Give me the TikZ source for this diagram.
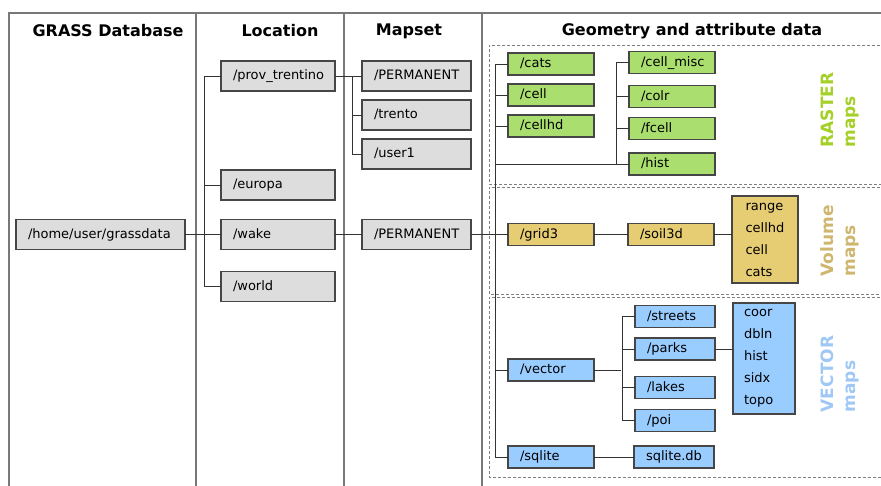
\documentclass[tikz,border=0pt]{standalone}
\usepackage{fontspec}
\setmainfont{DejaVu Sans}
\usetikzlibrary{positioning}
\definecolor{gridline}{RGB}{120,120,120}
\definecolor{boxline}{RGB}{70,70,70}
\definecolor{greyfill}{RGB}{221,221,221}
\definecolor{rastfill}{RGB}{170,222,110}
\definecolor{rastlabel}{RGB}{165,208,40}
\definecolor{volfill}{RGB}{230,204,115}
\definecolor{vollabel}{RGB}{206,182,110}
\definecolor{vectfill}{RGB}{153,204,255}
\definecolor{vectlabel}{RGB}{160,200,245}
\tikzstyle{folder} = [draw=boxline,line width=1.2pt,rectangle,outer sep=0pt,inner xsep=12pt,align=left,font=\fontsize{13}{15}\selectfont,text height=9.5pt,text depth=2.5pt]
\tikzstyle{grey} = [folder,fill=greyfill,minimum height=30pt]
\tikzstyle{rast} = [folder,fill=rastfill,minimum height=22pt]
\tikzstyle{vol} = [folder,fill=volfill,minimum height=22pt]
\tikzstyle{vect} = [folder,fill=vectfill,minimum height=22pt]
\tikzstyle{files} = [draw=boxline,line width=1.2pt,rectangle,outer sep=0pt,align=left,font=\fontsize{13}{22}\selectfont]
\tikzstyle{link} = [-,line width=1pt,draw=black!80]
\tikzstyle{head} = [font=\fontsize{16}{18}\selectfont\bfseries]
\tikzstyle{maptype} = [rotate=90,align=left,font=\fontsize{17}{22}\selectfont\bfseries]
\tikzstyle{frame} = [line width=1.4pt,draw=gridline]
\tikzstyle{group} = [densely dashed,line width=0.8pt,draw=gray]
\def \gap {9pt}

\begin{document}
\begin{tikzpicture}[x=1pt,y=-1pt]
      \useasboundingbox (0,0) rectangle (881,485);
      \draw[frame] (9,490) -- (9,13) -- (890,13);
      \foreach \x in {196,344,482} \draw[frame] (\x,13) -- (\x,490);
      \node[head] (hdb) at (108,31) {GRASS Database};
      \node[head] (hloc) at (280,31) {Location};
      \node[head] (hmap) at (409,31) {Mapset};
      \node[head] (hgeo) at (692,31) {Geometry and attribute data};
      \draw[group] (895,45) -| (489,184) -- (895,184);
      \draw[group] (895,187) -| (489,294) -- (895,294);
      \draw[group] (895,297) -| (489,477) -- (895,477);
      \node[grey,text width=145pt,anchor=west] (home) at (16,234.5) {/home/user/grassdata};
      \node[grey,text width=90pt,anchor=west] (prov) at (221,76) {/prov\_trentino};
      \node[grey,text width=90pt,anchor=west] (europa) at (221,185) {/europa};
      \node[grey,text width=90pt,anchor=west] (wake) at (221,234.5) {/wake};
      \node[grey,text width=90pt,anchor=west] (world) at (221,286.5) {/world};
      \node[grey,text width=85pt,anchor=west] (perm) at (362,76) {/PERMANENT};
      \node[grey,text width=85pt,below=\gap of perm] (trento) {/trento};
      \node[grey,text width=85pt,below=\gap of trento] (user1) {/user1};
      \node[grey,text width=85pt,anchor=west] (wperm) at (362,234.5) {/PERMANENT};
      \node[rast,text width=62pt,anchor=west] (cats) at (508,64) {/cats};
      \node[rast,text width=62pt,below=\gap of cats] (cell) {/cell};
      \node[rast,text width=62pt,below=\gap of cell] (cellhd) {/cellhd};
      \node[rast,text width=62pt,anchor=west] (misc) at (629,62.5) {/cell\_misc};
      \node[rast,text width=62pt,below=12pt of misc] (colr) {/colr};
      \node[rast,text width=62pt,below=10pt of colr] (fcell) {/fcell};
      \node[rast,text width=62pt,below=13.5pt of fcell] (hist) {/hist};
      \node[vol,text width=62pt,anchor=west] (grid3) at (508,234.5) {/grid3};
      \node[vol,text width=62pt,right=34pt of grid3] (soil) {/soil3d};
      \node[files,fill=volfill,text width=39pt,inner xsep=13.5pt,minimum height=87pt,anchor=north west] (volfiles) at (732,196) {range\\cellhd\\cell\\cats};
      \node[vect,text width=62pt,anchor=west] (vector) at (508,370) {/vector};
      \node[vect,text width=56pt,anchor=west] (streets) at (635,316.5) {/streets};
      \node[vect,text width=56pt,below=10.5pt of streets] (parks) {/parks};
      \node[vect,text width=56pt,below=16.5pt of parks] (lakes) {/lakes};
      \node[vect,text width=56pt,below=11pt of lakes] (poi) {/poi};
      \node[files,fill=vectfill,text width=40pt,inner xsep=11pt,minimum height=111pt,anchor=north west] (vectfiles) at (733,303) {coor\\dbln\\hist\\sidx\\topo};
      \node[vect,text width=62pt,anchor=west] (sqlite) at (508,457) {/sqlite};
      \node[vect,text width=56pt,right=40pt of sqlite] (sqldb) {sqlite.db};
      \node[maptype,text=rastlabel] (rlabel) at (840,110) {RASTER\\maps};
      \node[maptype,text=vollabel] (vlabel) at (840,241) {Volume\\maps};
      \node[maptype,text=vectlabel] (clabel) at (840,374) {VECTOR\\maps};
      \draw[link] (home.east) -- (wake.west);
      \draw[link] (prov.west) -- ++(-17,0) |- (world.west);
      \draw[link] (europa.west) -- ++(-17,0);
      \draw[link] (prov.east) -- (perm.west);
      \draw[link] (perm.west) ++(-10,0) |- (user1.west);
      \draw[link] (trento.west) -- ++(-10,0);
      \draw[link] (wake.east) -- (wperm.west);
      \draw[link] (wperm.east) -- (grid3.west);
      \draw[link] (cats.west) -- ++(-13,0) coordinate (dtrunk) |- (sqlite.west);
      \foreach \n in {cell,cellhd,vector} \draw[link] (\n.west) -- ++(-13,0);
      \draw[link] (dtrunk |- hist.west) -- (hist.west);
      \draw[link] (misc.west) -- ++(-13,0) |- (hist.west);
      \foreach \n in {colr,fcell} \draw[link] (\n.west) -- ++(-13,0);
      \draw[link] (grid3.east) -- (soil.west);
      \draw[link] (soil.east) -- (soil.east -| volfiles.west);
      \draw[link] (vector.east) -- ++(27,0);
      \draw[link] (streets.west) -- ++(-13,0) |- (poi.west);
      \foreach \n in {parks,lakes} \draw[link] (\n.west) -- ++(-13,0);
      \draw[link] (parks.east) -- (parks.east -| vectfiles.west);
      \draw[link] (sqlite.east) -- (sqldb.west);
    \end{tikzpicture}
\end{document}
